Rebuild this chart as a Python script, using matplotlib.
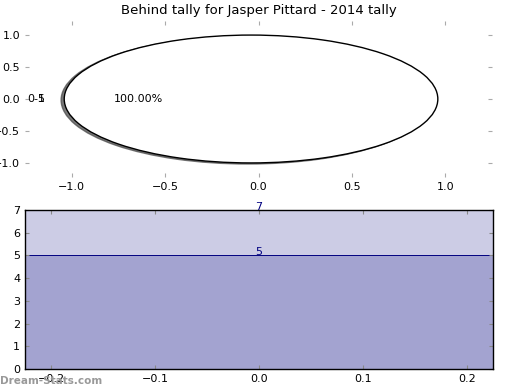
import matplotlib
matplotlib.use("Agg")
import matplotlib.pyplot as plt

title = "Behind tally for Jasper Pittard - 2014 tally"
pie_labels = ["0-5"]
pie_values = [100.0]
bar_values = [7, 5]
bar_labels = ["7", "5"]

fig = plt.figure(figsize=(5.2, 3.9), dpi=100)
ax1 = fig.add_axes([25/520, 1-177/390, 467/520, 156/390])
ax2 = fig.add_axes([25/520, 1-369/390, 468/520, 159/390])

wedges, texts, autotexts = ax1.pie(pie_values, labels=pie_labels, explode=[0.04],
                                   autopct="%1.2f%%",
                                   shadow=dict(ox=-0.012, oy=-0.012, alpha=0.75),
                                   startangle=0,
                                   wedgeprops=dict(edgecolor="black", linewidth=1, facecolor="white"),
                                   textprops=dict(fontsize=8))
ax1.text(texts[0].get_position()[0] - 0.005, 0, "1", ha="right", va="center", fontsize=8)
ax1.set_aspect("auto")
ax1.set_xlim(-1.25, 1.25)
ax1.set_ylim(-1.22, 1.22)
ax1.axis("on")
ax1.set_xticks([-1.0, -0.5, 0.0, 0.5, 1.0])
ax1.set_yticks([-1.0, -0.5, 0.0, 0.5, 1.0])
for s in ax1.spines.values():
    s.set_visible(False)
ax1.tick_params(direction="in", top=True, right=True, color="#aaaaaa", labelsize=8, length=3)
ax1.set_title(title, fontsize=9.5, pad=5)

for v in bar_values:
    ax2.bar([0], [v], width=0.45, color=(0, 0, 0.5, 0.2), edgecolor="navy", linewidth=0.7)
for v, t in zip(bar_values, bar_labels):
    ax2.text(0, v, t, ha="center", va="baseline", color="navy", fontsize=8)
ax2.set_xlim(-0.225, 0.225)
ax2.set_ylim(0, 7)
ax2.set_xticks([-0.2, -0.1, 0.0, 0.1, 0.2])
ax2.set_yticks(range(0, 8))
for s in ax2.spines.values():
    s.set_color("black")
    s.set_linewidth(1.0)
ax2.tick_params(direction="in", top=True, right=True, color="#888888", labelsize=8, length=3)

fig.text(0.0, 4/390, "Dream-Stats.com", color="#999999", fontsize=7.5, fontweight="bold", ha="left", va="bottom")

fig.savefig("out.png", dpi=100)
